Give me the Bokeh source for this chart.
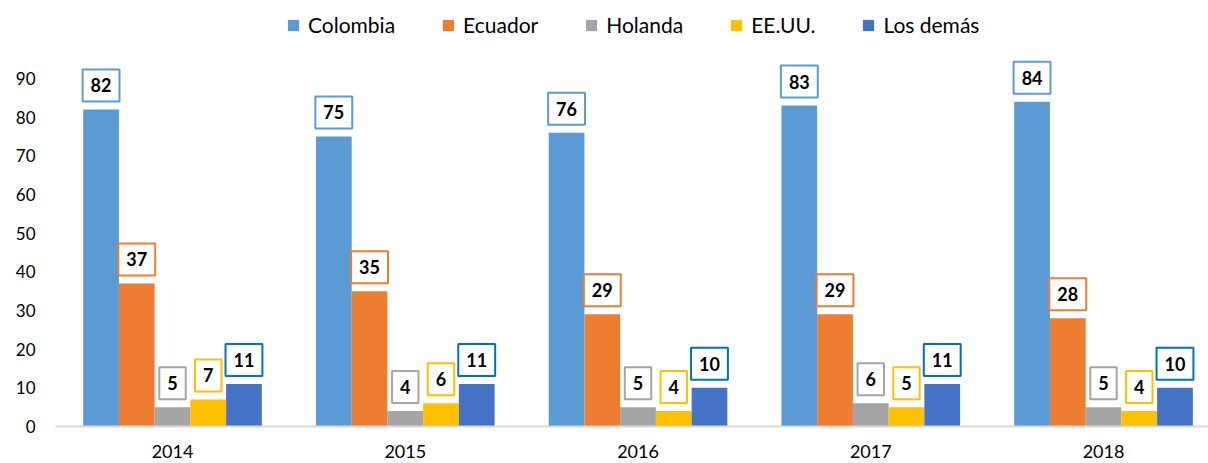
from bokeh.plotting import figure
from bokeh.models import ColumnDataSource, Range1d, FixedTicker, Legend, LegendItem
from bokeh.core.properties import value
from bokeh.embed import file_html
from bokeh.resources import INLINE

years = ["2014", "2015", "2016", "2017", "2018"]
series = ["Colombia", "Ecuador", "Holanda", "EE.UU.", "Los demás"]
colombia = [82, 75, 76, 83, 84]
ecuador = [37, 35, 29, 29, 28]
holanda = [5, 4, 5, 6, 5]
eeuu = [7, 6, 4, 5, 4]
los_demas = [11, 11, 10, 11, 10]
values = [colombia, ecuador, holanda, eeuu, los_demas]

bar_colors = ["#5B9BD5", "#ED7D31", "#A5A5A5", "#FFC000", "#4472C4"]
box_colors = ["#5B9BD5", "#ED7D31", "#A5A5A5", "#FFC000", "#0070C0"]

FONT = "Lato"
W = 1208
H = 463

p = figure(width=W, height=H, output_backend="svg", toolbar_location=None,
           x_range=Range1d(-0.5027, 4.451), y_range=Range1d(0, 110.17),
           min_border_left=55, min_border_right=0, min_border_top=0, min_border_bottom=37)
p.outline_line_color = None
p.xgrid.grid_line_color = None
p.ygrid.grid_line_color = None

bw = 0.1535
items = []
for k, (name, vals) in enumerate(zip(series, values)):
    xs = [i + (k - 2) * bw for i in range(len(years))]
    src = ColumnDataSource(dict(x=xs, top=vals, label=[str(v) for v in vals]))
    r = p.vbar(x="x", top="top", bottom=0, width=bw, source=src,
               fill_color=bar_colors[k], line_color=None)
    items.append(LegendItem(label=name, renderers=[r]))
    p.text(x="x", y="top", text="label", source=src,
           text_font=value(FONT), text_font_size="18px", text_font_style="bold",
           text_color="#000000", anchor="bottom_center", y_offset=-8,
           padding=dict(left=8, right=8, top=9, bottom=9),
           background_fill_color="white",
           border_line_color=box_colors[k], border_line_width=2)

legend = Legend(items=items, orientation="horizontal", location=(231, 389),
                glyph_width=14, glyph_height=14, label_standoff=8, spacing=46,
                label_text_font=FONT, label_text_font_size="21px",
                label_text_color="#000000", border_line_color=None,
                background_fill_alpha=0, padding=5, margin=0)
p.add_layout(legend, "center")

p.xaxis.ticker = FixedTicker(ticks=list(range(len(years))))
p.xaxis.major_label_overrides = {i: y for i, y in enumerate(years)}
p.xaxis.axis_line_color = "#D9D9D9"
p.xaxis.axis_line_width = 2
p.xaxis.major_tick_line_color = None
p.xaxis.minor_tick_line_color = None
p.xaxis.major_tick_out = 0
p.xaxis.major_label_standoff = 18
p.xaxis.major_label_text_font = FONT
p.xaxis.major_label_text_font_size = "18px"
p.xaxis.major_label_text_color = "#000000"

p.yaxis.ticker = FixedTicker(ticks=list(range(0, 91, 10)))
p.yaxis.axis_line_color = None
p.yaxis.major_tick_line_color = None
p.yaxis.minor_tick_line_color = None
p.yaxis.major_tick_out = 0
p.yaxis.major_label_standoff = 20
p.yaxis.major_label_text_font = FONT
p.yaxis.major_label_text_font_size = "17px"
p.yaxis.major_label_text_color = "#000000"

open("out.html", "w").write(file_html(p, INLINE))
